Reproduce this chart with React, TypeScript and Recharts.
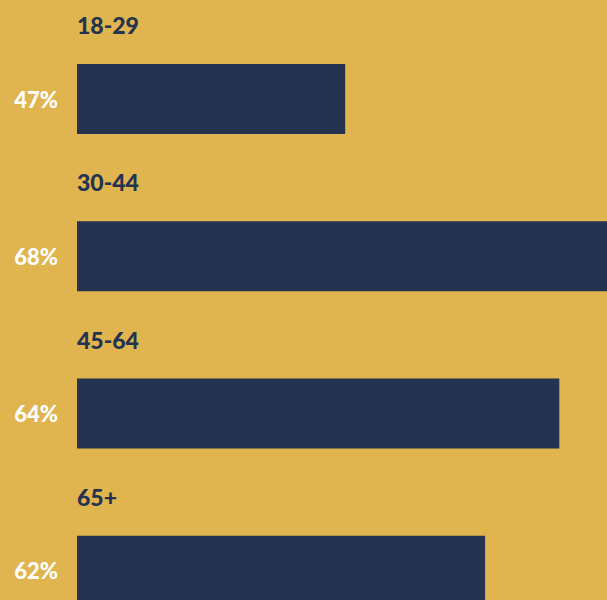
import React from "react";
import { BarChart, Bar, XAxis, YAxis, LabelList } from "recharts";

// age groups, shown above each bar
const ageGroups = ["18-29", "30-44", "45-64", "65+"];
// share printed at the left of each bar
const shares = [47, 68, 64, 62];
// bar lengths as drawn in the picture (share of the full row width)
const barLengths = [50.6, 100, 91, 77];

const BG = "#E0B44E";
const NAVY = "#24334F";
const FONT = "Lato, 'Noto Sans', sans-serif";

const data = ageGroups.map((group, i) => ({
  group,
  share: shares[i],
  length: barLengths[i],
}));

const GroupLabel = (props: any) => {
  const { x, y, value } = props;
  return (
    <text x={x} y={y - 30} fill={NAVY} fontSize={23} fontWeight={900} fontFamily={FONT}>
      {value}
    </text>
  );
};

const ShareLabel = (props: any) => {
  const { x, y, height, value } = props;
  return (
    <text
      x={x - 19}
      y={y + height / 2}
      fill="#FFFFFF"
      fontSize={22}
      fontWeight={900}
      fontFamily={FONT}
      textAnchor="end"
      dominantBaseline="central"
    >
      {`${value}%`}
    </text>
  );
};

export default function App() {
  return (
    <div
      style={{
        position: "absolute",
        left: 0,
        top: 0,
        width: 607,
        height: 600,
        overflow: "hidden",
        background: BG,
      }}
    >
      <BarChart
        layout="vertical"
        width={607}
        height={650}
        data={data}
        margin={{ top: 20, right: 0, bottom: 1, left: 77 }}
      >
        <XAxis type="number" domain={[0, 100]} hide />
        <YAxis type="category" dataKey="group" hide />
        <Bar dataKey="length" fill={NAVY} barSize={70} isAnimationActive={false}>
          <LabelList dataKey="group" content={GroupLabel} />
          <LabelList dataKey="share" content={ShareLabel} />
        </Bar>
      </BarChart>
    </div>
  );
}
